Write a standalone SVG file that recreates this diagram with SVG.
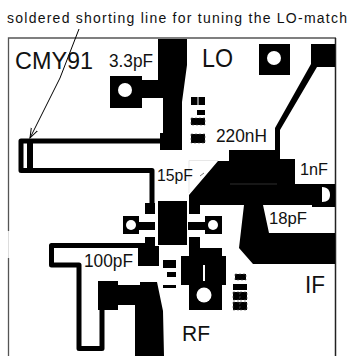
<svg xmlns="http://www.w3.org/2000/svg" width="350" height="356" viewBox="0 0 350 356">
<style>
text{font-family:"Liberation Sans",Arial,sans-serif;fill:#111}
.k{fill:#000}
.h{fill:#fff}
.t{fill:none;stroke:#000;stroke-linejoin:round}
.d{fill:#000;stroke:#555;stroke-width:.6;stroke-dasharray:2 2}
</style>
<defs><marker id="ah" markerWidth="12" markerHeight="12" refX="10" refY="5" orient="auto" markerUnits="userSpaceOnUse"><path d="M0 1.5L10 5L0 8.5" fill="none" stroke="#000" stroke-width="1"/></marker></defs>
<rect width="350" height="356" fill="#fff"/>
<g id="frame">
<path d="M8.5 356V38H336" fill="none" stroke="#555" stroke-width="1.3"/>
<path d="M335.5 38V356" fill="none" stroke="#222" stroke-width="1.5"/>
<rect x="7" y="231" width="3" height="27" fill="#fff"/>
<path d="M8.5 231V258" stroke="#ddd" stroke-width="1"/>
</g>
<g id="lo-stub">
<path class="k" d="M158 39H187V65L182 102V133H163V98H142V108H110V76H142V80H158Z"/>
<rect class="k" x="160" y="133" width="22" height="17"/>
<circle class="h" cx="125" cy="90" r="7"/>
</g>
<g id="lo-via"><rect class="k" x="259" y="44" width="31" height="31"/><circle class="h" cx="274" cy="58" r="7"/></g>
<g id="shorting-line">
<path class="t" stroke-width="5" d="M161 141H21V170.500H152V205"/>
<rect class="k" x="27" y="141" width="6" height="28"/>
<rect class="k" x="145" y="203" width="10" height="11"/>
</g>
<g id="ic">
<rect class="k" x="158" y="201" width="29" height="44"/>
<rect class="k" x="139" y="222" width="16" height="8"/>
<rect class="k" x="123" y="216" width="16" height="18"/><circle class="h" cx="131" cy="225" r="5"/>
<rect class="k" x="188" y="222" width="17" height="8"/>
<rect class="k" x="205" y="216" width="17" height="18"/><circle class="h" cx="213" cy="225" r="5"/>
</g>
<g id="if-network">
<path class="k" d="M311 44H335V67H317L280 130V159H295V184H335V207H312V205H263L269 233H335V264H253L239 248L244 205H200V214H189V195L218 161H229V150H275V128L311 64Z"/>
<path class="h" d="M322 187C328 187 330 191 330 195C330 199 328 202 322 202Z"/>
<path d="M230 184H277" stroke="#444" stroke-width=".7"/>
<path d="M189 193V160.500H218" fill="none" stroke="#ddd" stroke-width=".7"/>
<path d="M200 176L204 173" stroke="#555" stroke-width=".8"/>
</g>
<g id="rf-pad">
<path class="k" d="M189 237H200V248H222V256H226V285H222V310H189V285H181V256H189Z"/>
<circle class="h" cx="204" cy="295" r="7.500"/>
<rect class="h" x="203" y="265" width="2" height="16"/>
</g>
<g id="if-line">
<path class="t" stroke-width="5" d="M145 245.500H51.500V265H79V348.500H102V310"/>
<path class="k" d="M145 237H155V246H159V266H138V246H145Z"/>
<path class="k" d="M98 281H118V285H140V282H157L163 311L164 356H135V305H118V310H98Z"/>
</g>
<g id="small-pads">
<rect class="k" x="191" y="97" width="6.500" height="8"/><rect class="k" x="198.500" y="97" width="6.500" height="8"/>
<rect class="k" x="197" y="110" width="8" height="5"/>
<rect class="d" x="191" y="118" width="14" height="7"/>
<rect class="d" x="191" y="134" width="14" height="9"/>
<rect class="k" x="163" y="260" width="13" height="8"/>
<rect class="k" x="167" y="272" width="9" height="5"/>
<rect class="k" x="163" y="285" width="13" height="3"/>
<rect class="d" x="235" y="274" width="11" height="6"/>
<rect class="k" x="233" y="284" width="14" height="6"/>
<rect class="d" x="233" y="292" width="7" height="8"/><rect class="d" x="240" y="292" width="7" height="8"/>
<rect class="d" x="233" y="302" width="7" height="8"/><rect class="d" x="240" y="302" width="7" height="8"/>
</g>
<g id="connectors">
<path d="M79 29L60 78L30 138" fill="none" stroke="#000" stroke-width="1" marker-end="url(#ah)"/>
</g>
<g id="labels">
<text x="7" y="23" font-size="14" textLength="340" lengthAdjust="spacing">soldered shorting line for tuning the LO-match</text>
<text x="15" y="69" font-size="24" textLength="78" lengthAdjust="spacingAndGlyphs">CMY91</text>
<text x="109" y="67" font-size="18" textLength="44" lengthAdjust="spacingAndGlyphs">3.3pF</text>
<text x="202" y="67" font-size="25" textLength="31" lengthAdjust="spacingAndGlyphs">LO</text>
<text x="216" y="142" font-size="18" textLength="51" lengthAdjust="spacingAndGlyphs">220nH</text>
<text x="300" y="175" font-size="17" textLength="28" lengthAdjust="spacingAndGlyphs">1nF</text>
<text x="157" y="181" font-size="17" textLength="36" lengthAdjust="spacingAndGlyphs">15pF</text>
<text x="269" y="224" font-size="17" textLength="38" lengthAdjust="spacingAndGlyphs">18pF</text>
<text x="84" y="267" font-size="18" textLength="49" lengthAdjust="spacingAndGlyphs">100pF</text>
<text x="305" y="293" font-size="23" textLength="20" lengthAdjust="spacingAndGlyphs">IF</text>
<text x="182" y="341" font-size="22" textLength="28" lengthAdjust="spacingAndGlyphs">RF</text>
</g>
</svg>
